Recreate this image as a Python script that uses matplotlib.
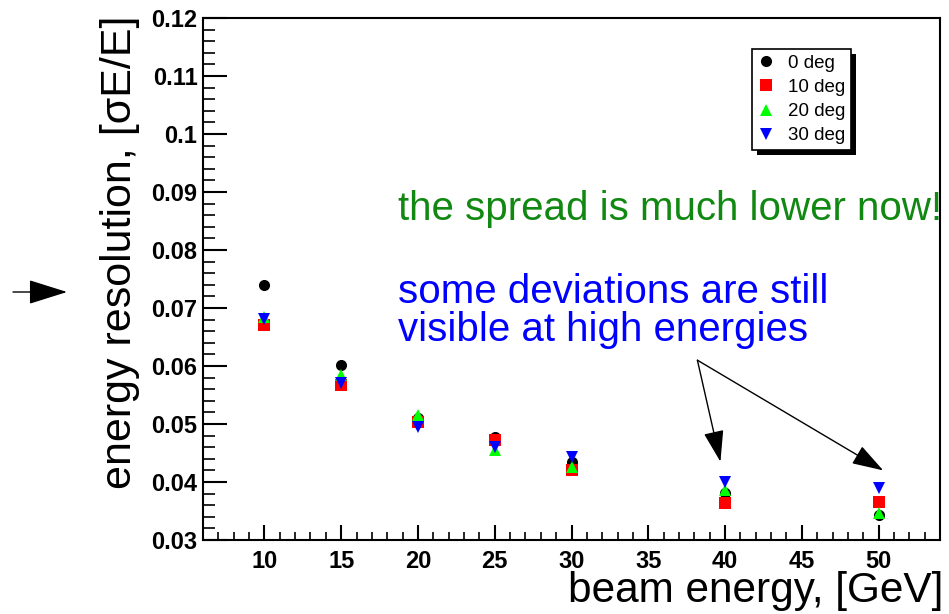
import matplotlib
matplotlib.use("Agg")
import matplotlib.pyplot as plt
from matplotlib.ticker import MultipleLocator, FuncFormatter
from matplotlib.patches import Rectangle, FancyArrowPatch

plt.rcParams['font.family'] = ['Liberation Sans', 'DejaVu Sans']

# Beam energies (GeV) and energy resolution for each incidence angle
energy = [10, 15, 20, 25, 30, 40, 50]
res_0deg = [0.0740, 0.0602, 0.0510, 0.0478, 0.0434, 0.0381, 0.0343]
res_10deg = [0.0671, 0.0567, 0.0503, 0.0472, 0.0421, 0.0364, 0.0366]
res_20deg = [0.0685, 0.0584, 0.0516, 0.0455, 0.0426, 0.0386, 0.0347]
res_30deg = [0.0681, 0.0571, 0.0495, 0.0460, 0.0443, 0.0400, 0.0390]

series = [
    ("0 deg", res_0deg, "o", "black"),
    ("10 deg", res_10deg, "s", "red"),
    ("20 deg", res_20deg, "^", "#00ff00"),
    ("30 deg", res_30deg, "v", "blue"),
]

fig = plt.figure(figsize=(9.49, 6.14), dpi=100)
ax = fig.add_axes([203 / 949, 1 - 540 / 614, 737 / 949, 522 / 614])

for label, vals, mk, col in series:
    ax.plot(energy, vals, linestyle="none", marker=mk, color=col,
            markersize=8, markeredgewidth=0, label=label)

ax.set_xlim(6, 54)
ax.set_ylim(0.03, 0.12)
ax.xaxis.set_major_locator(MultipleLocator(5))
ax.xaxis.set_minor_locator(MultipleLocator(1))
ax.yaxis.set_major_locator(MultipleLocator(0.01))
ax.yaxis.set_minor_locator(MultipleLocator(0.002))
ax.tick_params(axis="x", which="major", direction="in", length=11, width=1.5,
               pad=7, labelsize=17)
ax.tick_params(axis="x", which="minor", direction="in", length=5.5, width=1.2)
ax.tick_params(axis="y", which="major", direction="in", length=17, width=1.5,
               pad=4, labelsize=17)
ax.tick_params(axis="y", which="minor", direction="in", length=8.5, width=1.2)


def ytick_fmt(v, pos):
    s = "%.2f" % v
    return s[:-1] if s.endswith("0") else s


ax.yaxis.set_major_formatter(FuncFormatter(ytick_fmt))
for t in ax.get_xticklabels() + ax.get_yticklabels():
    t.set_fontweight("bold")
for s in ax.spines.values():
    s.set_linewidth(1.5)

ax.set_xlabel("beam energy, [GeV]", fontsize=30.5, ha="right", va="top")
ax.xaxis.set_label_coords(1.005, -0.06)
ax.set_ylabel("energy resolution, [σE/E]", fontsize=31, ha="right",
              va="center", rotation_mode="anchor")
ax.yaxis.set_label_coords(-0.112, 1.005)

leg = ax.legend(loc="upper left", bbox_to_anchor=(752 / 949, 1 - 49 / 614),
                bbox_transform=fig.transFigure, fontsize=13.5, frameon=True,
                fancybox=False, edgecolor="black", framealpha=1,
                borderpad=0.3, labelspacing=0.38, handlelength=0.9,
                handletextpad=0.7, borderaxespad=0)
leg.get_frame().set_linewidth(1.2)
leg.set_zorder(6)

# Drop shadow under the legend box
fig.canvas.draw()
bb = leg.get_window_extent().transformed(fig.transFigure.inverted())
sh = Rectangle((bb.x0 + 5 / 949, bb.y0 - 5 / 614), bb.width, bb.height,
               transform=fig.transFigure, facecolor="black", edgecolor="none",
               zorder=5, clip_on=False)
ax.add_artist(sh)

fig.text(398 / 949, 1 - 220 / 614, "the spread is much lower now!",
         fontsize=29, color="#118811", va="baseline", ha="left")
fig.text(398 / 949, 1 - 303 / 614, "some deviations are still",
         fontsize=29, color="blue", va="baseline", ha="left")
fig.text(398 / 949, 1 - 341 / 614, "visible at high energies",
         fontsize=29, color="blue", va="baseline", ha="left")

arrow_style = dict(arrowstyle="-|>,head_length=1.4,head_width=0.45",
                   mutation_scale=14, color="black", lw=1, shrinkA=0, shrinkB=0)
ax.annotate("", xy=(39.7, 0.0435), xytext=(38.2, 0.0610), xycoords="data",
            arrowprops=arrow_style)
ax.annotate("", xy=(50.3, 0.0420), xytext=(38.2, 0.0610), xycoords="data",
            arrowprops=arrow_style)

# Marker arrow at the left margin
fig.patches.append(FancyArrowPatch(
    (13 / 949, 1 - 292 / 614), (67 / 949, 1 - 292 / 614),
    transform=fig.transFigure, arrowstyle="-|>,head_length=1.75,head_width=0.55",
    mutation_scale=14, color="black", lw=1, shrinkA=0, shrinkB=0))

fig.savefig("out.png", dpi=100)
